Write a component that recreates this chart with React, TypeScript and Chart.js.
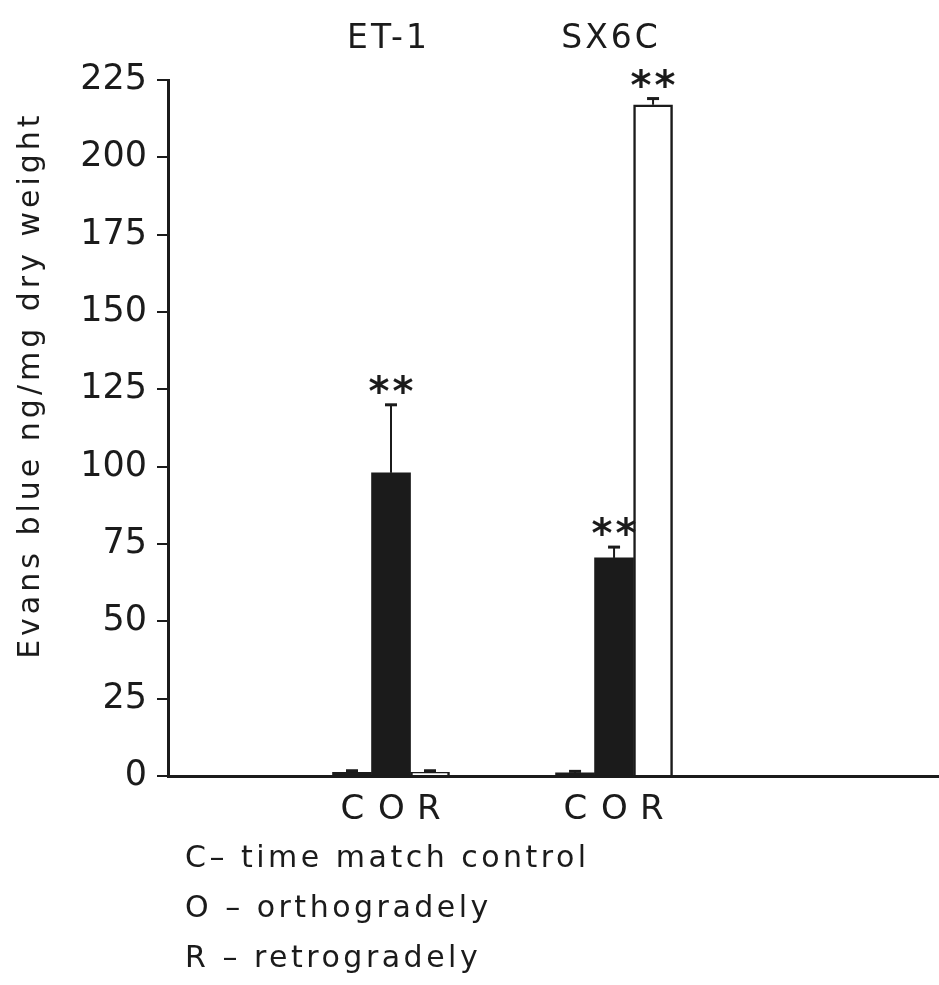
import React, { useEffect, useRef } from 'react';
import { Chart, registerables } from 'chart.js';

Chart.register(...registerables);

// ---- data ----
const groups = ['ET-1', 'SX6C'];
const groupPositions = [1, 2];
const barLetters = ['C', 'O', 'R'];
const controlValues = [1.2, 1.0];
const controlErrors = [0.5, 0.5];
const orthoValues = [98, 70.5];
const orthoErrors = [22, 3.5];
const retroValues = [1.2, 217];
const retroErrors = [0.5, 2];
const controlMarks = ['', ''];
const orthoMarks = ['**', '**'];
const retroMarks = ['', '**'];
const yMin = 0;
const yMax = 225;
const yStep = 25;
const xMax = 3.457;
const yTitle = 'Evans blue ng/mg dry weight';
const legendLines = ['C\u2013 time match control', 'O \u2013 orthogradely', 'R \u2013 retrogradely'];

const seriesValues = [controlValues, orthoValues, retroValues];
const seriesErrors = [controlErrors, orthoErrors, retroErrors];
const seriesMarks = [controlMarks, orthoMarks, retroMarks];

const FONT = "'DejaVu Sans', sans-serif";
const INK = '#1b1b1b';

function drawInkCentered(ctx: CanvasRenderingContext2D, text: string, x: number, cy: number, font: string, spacing: string) {
  ctx.font = font;
  (ctx as any).letterSpacing = spacing;
  ctx.textAlign = 'left';
  ctx.textBaseline = 'alphabetic';
  const m = ctx.measureText(text);
  const L = m.actualBoundingBoxLeft;
  const R = m.actualBoundingBoxRight;
  const A = m.actualBoundingBoxAscent;
  const D = m.actualBoundingBoxDescent;
  const x0 = x - (R - L) / 2;
  const y0 = cy + (A - D) / 2;
  ctx.fillText(text, x0, y0);
}

const annotationPlugin = {
  id: 'annotations',
  afterDatasetsDraw(chart: any) {
    const ctx: CanvasRenderingContext2D = chart.ctx;
    const yScale = chart.scales.y;
    const xScale = chart.scales.x;
    const area = chart.chartArea;
    ctx.save();
    ctx.fillStyle = INK;
    ctx.strokeStyle = INK;
    seriesValues.forEach((vals, di) => {
      const meta = chart.getDatasetMeta(di);
      meta.data.forEach((el: any, j: number) => {
        const top = yScale.getPixelForValue(vals[j] + seriesErrors[di][j]);
        ctx.lineWidth = 2;
        ctx.beginPath();
        ctx.moveTo(el.x, el.y);
        ctx.lineTo(el.x, top);
        ctx.stroke();
        ctx.lineWidth = 3;
        ctx.beginPath();
        ctx.moveTo(el.x - 6, top);
        ctx.lineTo(el.x + 6, top);
        ctx.stroke();
        const mark = seriesMarks[di][j];
        if (mark) {
          drawInkCentered(ctx, mark, el.x, top - 21, `bold 40px ${FONT}`, '3px');
        }
        // letters under bars
        drawInkCentered(ctx, barLetters[di], el.x, area.bottom + 30, `34px ${FONT}`, '0px');
      });
    });
    // group labels on top
    groups.forEach((g, j) => {
      const gx = xScale.getPixelForValue(groupPositions[j]);
      drawInkCentered(ctx, g, gx - 4, area.top - 45, `33px ${FONT}`, '3px');
    });
    // y axis title
    ctx.translate(area.left - 138, (area.top + area.bottom) / 2 - 42);
    ctx.rotate(-Math.PI / 2);
    drawInkCentered(ctx, yTitle, 0, 0, `30px ${FONT}`, '4px');
    ctx.restore();
  },
};

export default function App() {
  const ref = useRef<HTMLCanvasElement>(null);

  useEffect(() => {
    if (!ref.current) return;
    const mk = (vals: number[]) => vals.map((v, j) => ({ x: groupPositions[j], y: v }));
    const chart = new Chart(ref.current, {
      type: 'bar',
      data: {
        datasets: [
          { label: 'C', data: mk(controlValues), backgroundColor: INK, borderColor: INK, borderWidth: 0 },
          { label: 'O', data: mk(orthoValues), backgroundColor: INK, borderColor: INK, borderWidth: 0 },
          { label: 'R', data: mk(retroValues), backgroundColor: '#ffffff', borderColor: INK, borderWidth: 2.5 },
        ],
      } as any,
      options: {
        responsive: false,
        animation: false,
        layout: { padding: { top: 80, left: 0, right: 0, bottom: 0 } },
        datasets: { bar: { barThickness: 39, grouped: true } } as any,
        plugins: { legend: { display: false }, tooltip: { enabled: false } },
        scales: {
          x: {
            type: 'linear',
            offset: false,
            min: 0,
            max: xMax,
            ticks: { display: false, stepSize: 1, includeBounds: false } as any,
            grid: { display: false, offset: false },
            border: { display: true, color: INK, width: 3 },
            afterFit: (s: any) => { s.height = 209; },
          },
          y: {
            type: 'linear',
            min: yMin,
            max: yMax,
            ticks: { stepSize: yStep, color: INK, padding: 10, font: { family: FONT, size: 35 } },
            grid: { display: true, drawOnChartArea: false, drawTicks: true, tickLength: 11, color: INK, lineWidth: 2 },
            border: { display: true, color: INK, width: 3 },
            afterFit: (s: any) => { s.width = 168; },
          },
        },
      } as any,
      plugins: [annotationPlugin],
    });
    return () => chart.destroy();
  }, []);

  return (
    <div style={{ position: 'absolute', left: 0, top: 0, width: 939, height: 985, background: '#fff' }}>
      <canvas ref={ref} width={939} height={985} style={{ display: 'block' }} />
      <div
        style={{
          position: 'absolute',
          left: 185,
          top: 832,
          fontFamily: FONT,
          fontSize: 30,
          letterSpacing: '3.5px',
          lineHeight: '50px',
          color: INK,
          whiteSpace: 'pre',
        }}
      >
        {legendLines.map((l, i) => (
          <div key={i}>{l}</div>
        ))}
      </div>
    </div>
  );
}
